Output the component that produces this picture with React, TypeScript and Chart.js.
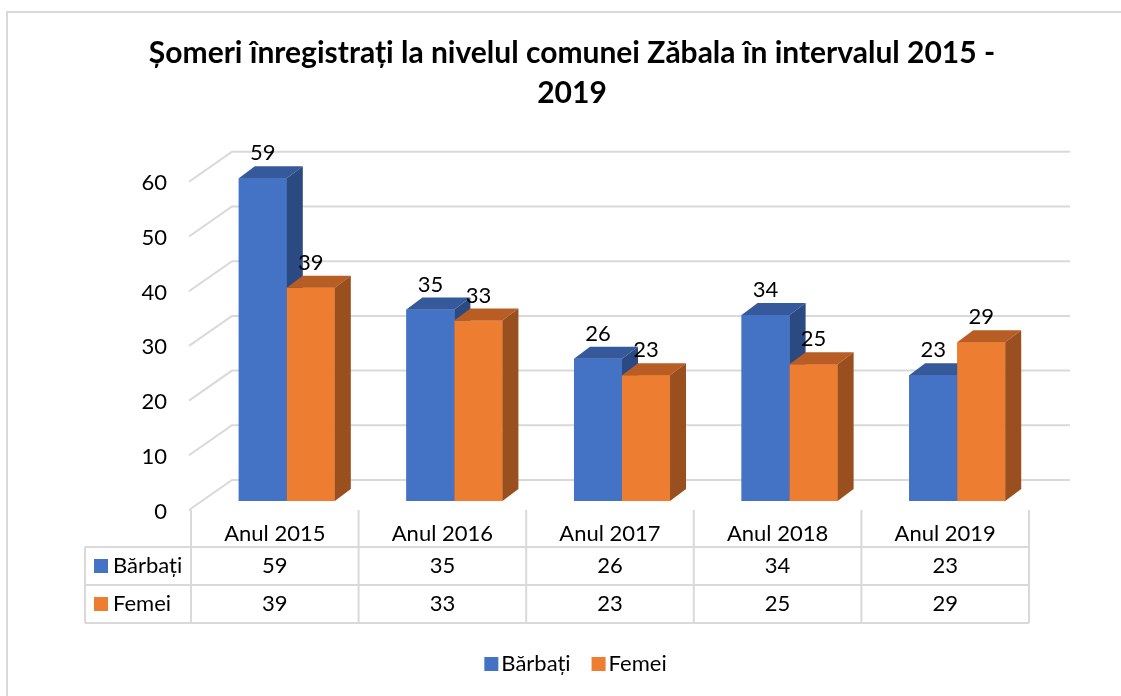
import React, { useEffect, useRef } from "react";
import { Chart, registerables } from "chart.js";

Chart.register(...registerables);

const categories = ["Anul 2015", "Anul 2016", "Anul 2017", "Anul 2018", "Anul 2019"];
const barbati = [59, 35, 26, 34, 23];
const femei = [39, 33, 23, 25, 29];
const seriesNames = ["Bărbați", "Femei"];
const yTicks = [0, 10, 20, 30, 40, 50, 60];
const titleLines = ["Șomeri înregistrați la nivelul comunei Zăbala în intervalul 2015 -", "2019"];

const FRONT_COLORS = ["#4472C4", "#ED7D31"];
const TOP_COLORS = ["#35599B", "#B85E24"];
const SIDE_COLORS = ["#2C4A82", "#9A4F1F"];
const GRID = "#d9d9d9";
const FONT = "Lato, 'Open Sans', sans-serif";
const TEXT_SIZE = 22;

// 3D geometry offsets (relative to the bar front plane)
const FRONT = { dx: -12, dy: 9 };
const BACK = { dx: 29, dy: -21 };
const DEPTH = { dx: 16, dy: -12 };

function poly(ctx: CanvasRenderingContext2D, pts: number[][], color: string) {
  ctx.beginPath();
  ctx.moveTo(pts[0][0], pts[0][1]);
  for (let i = 1; i < pts.length; i++) ctx.lineTo(pts[i][0], pts[i][1]);
  ctx.closePath();
  ctx.fillStyle = color;
  ctx.fill();
}

const threeD = {
  id: "threeD",
  beforeDraw(chart: any) {
    const ctx = chart.ctx as CanvasRenderingContext2D;
    ctx.save();
    ctx.fillStyle = "#ffffff";
    ctx.fillRect(0, 0, chart.width, chart.height);
    ctx.strokeStyle = GRID;
    ctx.lineWidth = 2;
    ctx.strokeRect(7, 12, chart.width + 50, chart.height + 50);

    // title
    ctx.fillStyle = "#000";
    ctx.font = `bold 30px ${FONT}`;
    ctx.textAlign = "center";
    ctx.textBaseline = "middle";
    ctx.fillText(titleLines[0], 572, 53);
    ctx.fillText(titleLines[1], 572, 93);
    ctx.restore();
  },
  beforeDatasetsDraw(chart: any) {
    const ctx = chart.ctx as CanvasRenderingContext2D;
    const y = chart.scales.y;
    const area = chart.chartArea;
    ctx.save();
    ctx.strokeStyle = GRID;
    ctx.lineWidth = 2;
    for (const v of yTicks) {
      const py = y.getPixelForValue(v);
      ctx.beginPath();
      ctx.moveTo(area.left + FRONT.dx - 2, py + FRONT.dy);
      ctx.lineTo(area.left + BACK.dx, py + BACK.dy);
      ctx.lineTo(area.right + BACK.dx, py + BACK.dy);
      ctx.stroke();
    }
    // tick labels
    ctx.fillStyle = "#000";
    ctx.font = `${TEXT_SIZE}px ${FONT}`;
    ctx.textAlign = "right";
    ctx.textBaseline = "middle";
    for (const v of yTicks) {
      const py = y.getPixelForValue(v) + FRONT.dy + 1.5;
      ctx.fillText(String(v), area.left + FRONT.dx - 24, py);
    }

    // data table
    const x = chart.scales.x;
    const colW = x.getPixelForValue(1) - x.getPixelForValue(0);
    const tLeft = area.left + FRONT.dx;
    const tTop = area.bottom + FRONT.dy;
    const rowH = 38;
    const hdrH = 37;
    const legLeft = 85;
    const tRight = tLeft + colW * categories.length;
    ctx.strokeStyle = GRID;
    ctx.lineWidth = 2;
    ctx.beginPath();
    for (let i = 0; i <= categories.length; i++) {
      const cx = tLeft + i * colW;
      ctx.moveTo(cx, tTop);
      ctx.lineTo(cx, tTop + hdrH + 2 * rowH);
    }
    ctx.moveTo(legLeft, tTop + hdrH);
    ctx.lineTo(legLeft, tTop + hdrH + 2 * rowH);
    for (let r = 0; r <= 2; r++) {
      const ry = tTop + hdrH + r * rowH;
      ctx.moveTo(legLeft, ry);
      ctx.lineTo(tRight, ry);
    }
    ctx.stroke();

    ctx.fillStyle = "#000";
    ctx.textAlign = "center";
    ctx.textBaseline = "middle";
    ctx.font = `${TEXT_SIZE}px ${FONT}`;
    categories.forEach((c, i) => {
      const cx = tLeft + (i + 0.5) * colW;
      ctx.fillText(c, cx, tTop + hdrH / 2 + 5);
      ctx.fillText(String(barbati[i]), cx, tTop + hdrH + rowH / 2);
      ctx.fillText(String(femei[i]), cx, tTop + hdrH + rowH * 1.5);
    });
    seriesNames.forEach((n, r) => {
      const cy = tTop + hdrH + rowH * (r + 0.5);
      ctx.fillStyle = FRONT_COLORS[r];
      ctx.fillRect(legLeft + 9, cy - 7, 14, 14);
      ctx.fillStyle = "#000";
      ctx.textAlign = "left";
      ctx.fillText(n, legLeft + 28, cy);
    });

    // bottom legend
    ctx.font = `${TEXT_SIZE}px ${FONT}`;
    const w0 = ctx.measureText(seriesNames[0]).width;
    const w1 = ctx.measureText(seriesNames[1]).width;
    const total = 14 + 3 + w0 + 21 + 14 + 3 + w1;
    let lx = 575.5 - total / 2;
    const ly = 664;
    ctx.textAlign = "left";
    seriesNames.forEach((n, i) => {
      ctx.fillStyle = FRONT_COLORS[i];
      ctx.fillRect(lx, ly - 7, 14, 14);
      ctx.fillStyle = "#000";
      ctx.fillText(n, lx + 17, ly);
      lx += 17 + (i === 0 ? w0 : w1) + 21;
    });
    ctx.restore();
  },
  afterDatasetsDraw(chart: any) {
    const ctx = chart.ctx as CanvasRenderingContext2D;
    ctx.save();
    // draw each series in index order: front, top, side
    chart.data.datasets.forEach((_ds: any, di: number) => {
      const meta = chart.getDatasetMeta(di);
      for (const el of meta.data) {
        const p = el.getProps(["x", "y", "width", "base"], true);
        const l = p.x - p.width / 2;
        const r = p.x + p.width / 2;
        ctx.fillStyle = FRONT_COLORS[di];
        ctx.fillRect(l, p.y, p.width, p.base - p.y);
        poly(ctx, [[l, p.y], [r, p.y], [r + DEPTH.dx, p.y + DEPTH.dy], [l + DEPTH.dx, p.y + DEPTH.dy]], TOP_COLORS[di]);
        poly(ctx, [[r, p.y], [r + DEPTH.dx, p.y + DEPTH.dy], [r + DEPTH.dx, p.base + DEPTH.dy], [r, p.base]], SIDE_COLORS[di]);
      }
    });
    ctx.fillStyle = "#000";
    ctx.font = `${TEXT_SIZE}px ${FONT}`;
    ctx.textAlign = "center";
    ctx.textBaseline = "middle";
    chart.data.datasets.forEach((ds: any, di: number) => {
      const meta = chart.getDatasetMeta(di);
      meta.data.forEach((el: any, i: number) => {
        const p = el.getProps(["x", "y"], true);
        ctx.fillText(String(ds.data[i]), p.x, p.y - 25);
      });
    });
    ctx.restore();
  },
};

export default function App() {
  const ref = useRef<HTMLCanvasElement>(null);
  useEffect(() => {
    if (!ref.current) return;
    const chart = new Chart(ref.current, {
      type: "bar",
      data: {
        labels: categories,
        datasets: [
          { label: seriesNames[0], data: barbati, backgroundColor: FRONT_COLORS[0] },
          { label: seriesNames[1], data: femei, backgroundColor: FRONT_COLORS[1] },
        ],
      },
      options: {
        responsive: false,
        animation: false,
        devicePixelRatio: 1,
        layout: { padding: { left: 203, right: 80, top: 172.8, bottom: 195 } },
        datasets: { bar: { categoryPercentage: 0.573, barPercentage: 1 } },
        scales: {
          x: { display: false, offset: true },
          y: { display: false, min: 0, max: 60 },
        },
        plugins: { legend: { display: false }, title: { display: false }, tooltip: { enabled: false } },
      },
      plugins: [threeD],
    });
    (document as any).fonts?.ready?.then(() => chart.draw());
    return () => chart.destroy();
  }, []);
  return (
    <div style={{ position: "absolute", left: 0, top: 0, width: 1121, height: 696 }}>
      <canvas ref={ref} width={1121} height={696} style={{ width: 1121, height: 696 }} />
    </div>
  );
}
